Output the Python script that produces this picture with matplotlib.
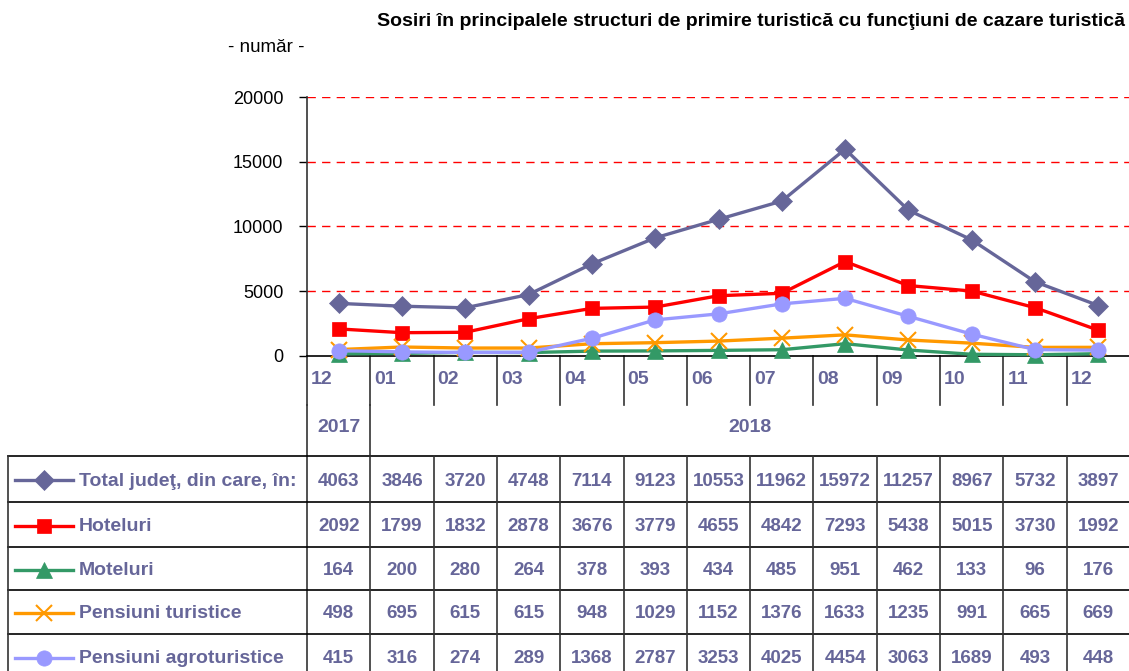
import matplotlib.pyplot as plt
from matplotlib.lines import Line2D
from matplotlib import font_manager

# data
months = ['12', '01', '02', '03', '04', '05', '06', '07', '08', '09', '10', '11', '12']
years = ['2017', '2018']
total = [4063, 3846, 3720, 4748, 7114, 9123, 10553, 11962, 15972, 11257, 8967, 5732, 3897]
hotel = [2092, 1799, 1832, 2878, 3676, 3779, 4655, 4842, 7293, 5438, 5015, 3730, 1992]
motel = [164, 200, 280, 264, 378, 393, 434, 485, 951, 462, 133, 96, 176]
pens = [498, 695, 615, 615, 948, 1029, 1152, 1376, 1633, 1235, 991, 665, 669]
agro = [415, 316, 274, 289, 1368, 2787, 3253, 4025, 4454, 3063, 1689, 493, 448]

names = ['Total judeţ, din care, în:', 'Hoteluri', 'Moteluri',
         'Pensiuni turistice', 'Pensiuni agroturistice']
series = [total, hotel, motel, pens, agro]
colors = ['#666699', '#ff0000', '#339966', '#ff9900', '#9999ff']
markers = ['D', 's', '^', 'x', 'o']
msizes = [10, 10, 11, 12, 11]

installed = {f.name for f in font_manager.fontManager.ttflist}
fam = 'Liberation Sans Narrow' if 'Liberation Sans Narrow' in installed else 'Liberation Sans'
plt.rcParams['font.family'] = [fam, 'DejaVu Sans']
txt = '#666699'

W, H = 1129, 671
fig = plt.figure(figsize=(W / 100, H / 100), dpi=100)

# pixel overlay for the table
ov = fig.add_axes([0, 0, 1, 1])
ov.set_xlim(0, W)
ov.set_ylim(H, 0)
ov.axis('off')

x0, x1, y_top, y_bot = 307, 1130, 97, 356
ax = fig.add_axes([x0 / W, (H - y_bot) / H, (x1 - x0) / W, (y_bot - y_top) / H])
ax.patch.set_alpha(0)
ax.set_xlim(-0.5, len(months) - 0.5)
ax.set_ylim(0, 20000)
ax.set_yticks([0, 5000, 10000, 15000, 20000])
ax.set_yticklabels(['0', '5000', '10000', '15000', '20000'], fontsize=13)
ax.tick_params(axis='y', length=6, width=1, pad=11, colors='black')
ax.set_xticks([])
for v in [5000, 10000, 15000, 20000]:
    ax.axhline(v, color='red', lw=1, linestyle=(0, (6, 4.5)), zorder=0.5)
for s in ['top', 'right']:
    ax.spines[s].set_visible(False)
ax.spines['left'].set_color('#333333')
ax.spines['left'].set_linewidth(1.2)
ax.spines['bottom'].set_color('black')
ax.spines['bottom'].set_linewidth(1.2)

xs = list(range(len(months)))
for vals, c, m, ms in zip(series, colors, markers, msizes):
    ax.plot(xs, vals, color=c, lw=2.4, marker=m, markersize=ms,
            markeredgewidth=1.5 if m == 'x' else 0.5, markeredgecolor=c,
            clip_on=False, zorder=3)

# column boundaries in pixels
edges = [ax.transData.transform((i - 0.5, 0))[0] for i in range(len(months) + 1)]
centers = [(edges[i] + edges[i + 1]) / 2 for i in range(len(months))]

lk = dict(color='#333333', lw=1.2)
# tick separators and month labels
for i, e in enumerate(edges[:-1]):
    ov.plot([e, e], [y_bot, 405], **lk)
    ov.text(e + 4, 379, months[i], color=txt, fontsize=14, fontweight='bold',
            ha='left', va='center')
ov.plot([edges[0], edges[0]], [405, H], **lk)
ov.plot([edges[1], edges[1]], [405, 456], **lk)
ov.text(centers[0], 428, years[0], color=txt, fontsize=14, fontweight='bold',
        ha='center', va='center')
ov.text((edges[1] + edges[-1]) / 2, 428, years[1], color=txt, fontsize=14,
        fontweight='bold', ha='center', va='center')

# table
rows = [456, 502, 547, 590, 634, 679]
for y in rows[:-1]:
    ov.plot([8, W], [y, y], color='black', lw=1.2)
ov.plot([8, 8], [456, H], color='#333333', lw=1.2)
for e in edges[1:-1]:
    ov.plot([e, e], [456, H], **lk)

for r, (name, vals, c, m, ms) in enumerate(zip(names, series, colors, markers, msizes)):
    yc = (rows[r] + rows[r + 1]) / 2
    ov.add_line(Line2D([15, 73], [yc + 1, yc + 1], color=c, lw=2.4))
    ov.add_line(Line2D([44], [yc + 1], color=c, marker=m, markersize=ms,
                       markeredgewidth=1.5 if m == 'x' else 0.5, markeredgecolor=c))
    ov.text(79, yc + 2, name, color=txt, fontsize=14, fontweight='bold',
            ha='left', va='center')
    for cx, v in zip(centers, vals):
        ov.text(cx, yc + 2, str(v), color=txt, fontsize=13.5, fontweight='bold',
                ha='center', va='center')

ov.text(1125, 22, 'Sosiri în principalele structuri de primire turistică cu funcţiuni de cazare turistică',
        fontsize=14, fontweight='bold', ha='right', va='center', color='black')
ov.text(266, 47, '- număr -', fontsize=13.5, ha='center', va='center', color='black')

fig.savefig('out.png', dpi=100)
